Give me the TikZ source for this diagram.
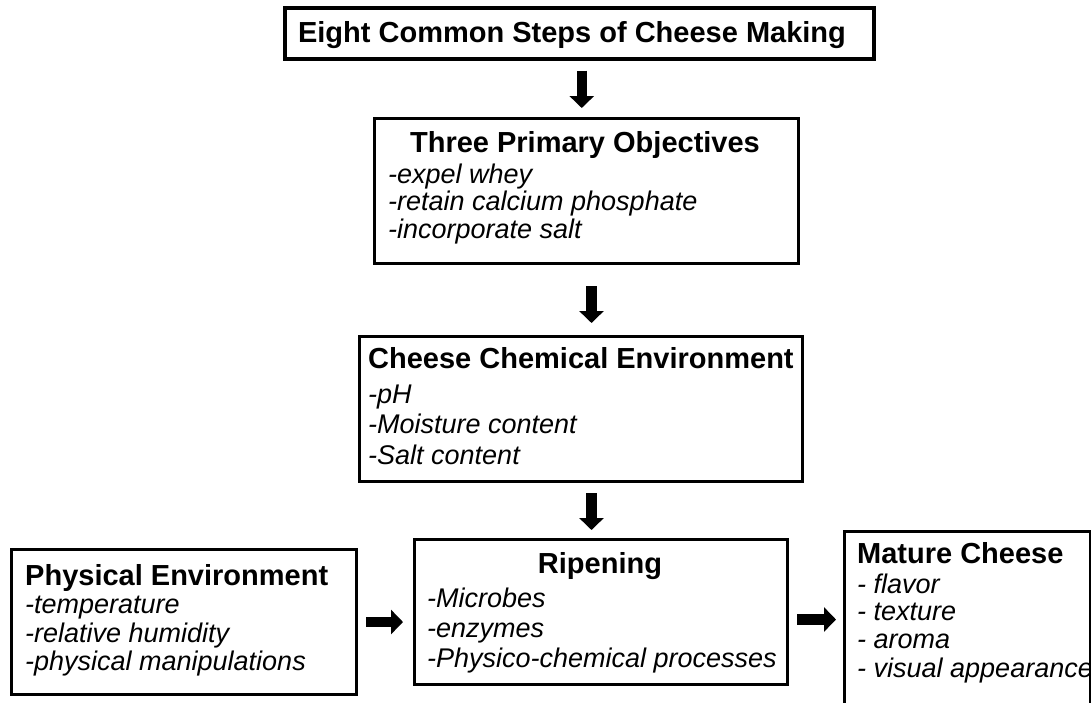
\documentclass[tikz,border=0pt]{standalone}
\usepackage{fontspec}
\setmainfont{Liberation Sans}
\usetikzlibrary{arrows.meta,calc}
\tikzset{
  box/.style={draw=black, line width=3pt, rectangle, inner sep=0pt, anchor=north west},
  head/.style={font=\fontsize{29}{33}\selectfont\bfseries, inner sep=0pt},
  item/.style={font=\fontsize{27}{30}\selectfont\itshape, inner sep=0pt, anchor=base west},
  bigarrow/.style={line width=10.5pt, -{Triangle[length=12pt,width=24pt]}},
}
\begin{document}
\begin{tikzpicture}[x=1pt,y=-1pt]
\useasboundingbox (0,0) rectangle (1091,702);
\clip (0,0) rectangle (1091,702);

% boxes
\node[box, line width=3.5pt, minimum width=589pt, minimum height=51pt] (title) at (283,6) {};
\node[box, minimum width=424pt, minimum height=145pt] (obj) at (373,117) {};
\node[box, minimum width=443pt, minimum height=145pt] (chem) at (358,335) {};
\node[box, minimum width=373pt, minimum height=145pt] (rip) at (413,538) {};
\node[box, minimum width=345pt, minimum height=145pt] (phys) at (10,548) {};
\node[box, minimum width=246pt, minimum height=200pt] (mat) at (843,530) {};

% title
\node[head, anchor=base] (titletxt) at (572,42) {Eight Common Steps of Cheese Making};

% objectives
\node[head, anchor=base] (objh) at (585,152) {Three Primary Objectives};
\node[item] (obj1) at (388,183) {-expel whey};
\node[item] (obj2) at (388,210) {-retain calcium phosphate};
\node[item] (obj3) at (388,238) {-incorporate salt};

% chemical environment
\node[head, anchor=base west] (chemh) at (368,368) {Cheese Chemical Environment};
\node[item] (chem1) at (368,403) {-pH};
\node[item] (chem2) at (368,433) {-Moisture content};
\node[item] (chem3) at (368,464) {-Salt content};

% ripening
\node[head, anchor=base] (riph) at (600,573) {Ripening};
\node[item] (rip1) at (427,607) {-Microbes};
\node[item] (rip2) at (427,637) {-enzymes};
\node[item] (rip3) at (427,667) {-Physico-chemical processes};

% physical environment
\node[head, anchor=base west] (physh) at (25,585) {Physical Environment};
\node[item] (phys1) at (25,613) {-temperature};
\node[item] (phys2) at (25,642) {-relative humidity};
\node[item] (phys3) at (25,670) {-physical manipulations};

% mature cheese
\node[head, anchor=base west] (math) at (857,563) {Mature Cheese};
\node[item] (mat1) at (857,593) {- flavor};
\node[item] (mat2) at (857,620) {- texture};
\node[item] (mat3) at (857,648) {- aroma};
\node[item] (mat4) at (857,677) {- visual appearance};

% arrows
\draw[bigarrow, shorten <=10pt, shorten >=9pt]
  ([xshift=2.5pt]title.south) -- ([xshift=2.5pt]title.south |- obj.north);
\draw[bigarrow, shorten <=21pt, shorten >=12pt]
  ([xshift=5pt]obj.south) -- ([xshift=5pt]obj.south |- chem.north);
\draw[bigarrow, shorten <=10pt, shorten >=8pt]
  ([xshift=10.5pt]chem.south) -- ([xshift=10.5pt]chem.south |- rip.north);
\draw[bigarrow, shorten <=8pt, shorten >=10pt]
  (phys.east) -- (phys.east -| rip.west);
\draw[bigarrow, shorten <=8pt, shorten >=7pt]
  ([yshift=-7.5pt]rip.east) -- ([yshift=-7.5pt]rip.east -| mat.west);
\end{tikzpicture}
\end{document}
